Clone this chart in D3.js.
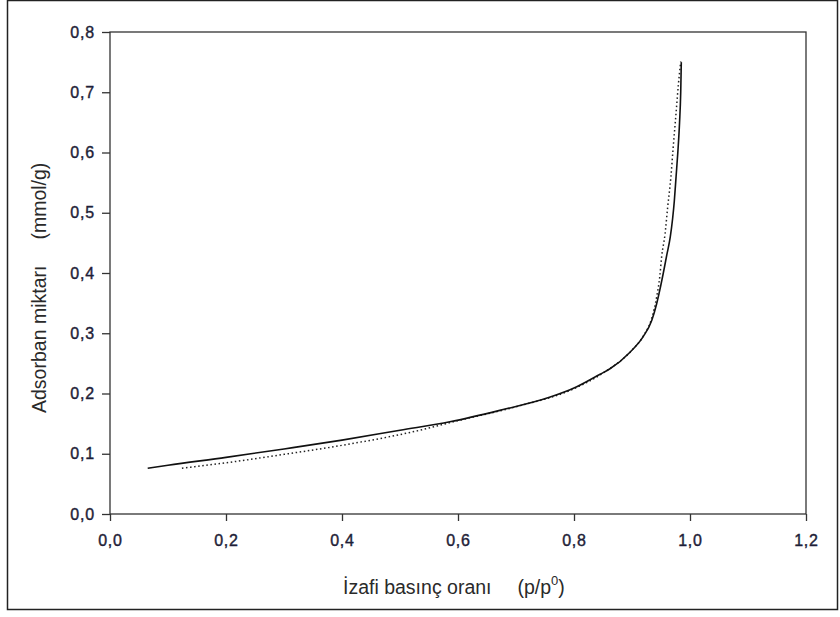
<!DOCTYPE html>
<html>
  <head>
    <meta charset="UTF-8">
    <title>Adsorpsiyon izotermi</title>
    <script src="https://cdn.jsdelivr.net/npm/d3@7"></script>
    <style>
      body { margin: 0; background: #fff; }
      .tick text { font-family: "Liberation Sans", Arial, sans-serif;
                   font-size: 16px; fill: #1e1e38; letter-spacing: 0.8px;
                   stroke: #1e1e38; stroke-width: 0.4px; }
      .title { font-family: "Liberation Sans", Arial, sans-serif;
               font-size: 19.5px; fill: #2a2a2a; }
    </style>
  </head>
  <body>
    <script>
      // x ticks, y ticks
      var xTicks = [0, 0.2, 0.4, 0.6, 0.8, 1.0, 1.2];
      var yTicks = [0, 0.1, 0.2, 0.3, 0.4, 0.5, 0.6, 0.7, 0.8];

      // solid curve (p/p0, mmol/g)
      var solidX = [0.065, 0.1, 0.2, 0.3, 0.4, 0.5, 0.586, 0.672, 0.759, 0.8, 0.845, 0.862, 0.897, 0.919, 0.934, 0.9425, 0.948, 0.954, 0.960, 0.966, 0.970, 0.973, 0.976, 0.979, 0.982, 0.984, 0.985];
      var solidY = [0.076, 0.081, 0.094, 0.108, 0.1226, 0.139, 0.153, 0.172, 0.194, 0.209, 0.232, 0.241, 0.269, 0.294, 0.321, 0.349, 0.372, 0.400, 0.430, 0.460, 0.490, 0.520, 0.560, 0.600, 0.650, 0.700, 0.750];

      // dotted curve
      var dotX = [0.124, 0.2, 0.3, 0.4, 0.534, 0.6, 0.7, 0.8, 0.85, 0.9, 0.92, 0.934, 0.9425, 0.948, 0.951, 0.957, 0.9615, 0.967, 0.971, 0.976, 0.98, 0.984];
      var dotY = [0.076, 0.085, 0.099, 0.114, 0.139, 0.155, 0.178, 0.208, 0.234, 0.272, 0.296, 0.325, 0.36, 0.395, 0.426, 0.465, 0.509, 0.559, 0.608, 0.666, 0.713, 0.751];

      var svg = d3.select("body").append("svg")
        .attr("width", 840)
        .attr("height", 617);

      // outer frame
      svg.append("rect")
        .attr("x", 7.5).attr("y", 0.5)
        .attr("width", 830).attr("height", 609)
        .style("fill", "none")
        .style("stroke", "#222")
        .style("stroke-width", 1.5);

      var plotL = 110, plotT = 32, plotR = 806, plotB = 514;

      var x = d3.scaleLinear().domain([0, 1.2]).range([plotL, plotR]);
      var y = d3.scaleLinear().domain([0, 0.8]).range([plotB, plotT]);

      var fmt = function (d) { return d3.format(".1f")(d).replace(".", ","); };

      // plot box
      svg.append("rect")
        .attr("x", plotL).attr("y", plotT)
        .attr("width", plotR - plotL).attr("height", plotB - plotT)
        .style("fill", "none")
        .style("stroke", "#333")
        .style("stroke-width", 1.3);

      var xAxis = svg.append("g")
        .attr("transform", "translate(0," + plotB + ")")
        .call(d3.axisBottom(x).tickValues(xTicks).tickFormat(fmt).tickSize(7).tickPadding(14));
      var yAxis = svg.append("g")
        .attr("transform", "translate(" + plotL + ",0)")
        .call(d3.axisLeft(y).tickValues(yTicks).tickFormat(fmt).tickSize(8).tickPadding(7));

      [xAxis, yAxis].forEach(function (a) {
        a.select(".domain").remove();
        a.selectAll(".tick line").style("stroke", "#333").style("stroke-width", 1.3);
      });

      var line = d3.line()
        .x(function (d) { return x(d[0]); })
        .y(function (d) { return y(d[1]); })
        .curve(d3.curveMonotoneX);

      var solid = solidX.map(function (v, i) { return [v, solidY[i]]; });
      var dotted = dotX.map(function (v, i) { return [v, dotY[i]]; });

      svg.append("path")
        .datum(dotted)
        .attr("d", line)
        .style("fill", "none")
        .style("stroke", "#222")
        .style("stroke-width", 1.5)
        .style("stroke-dasharray", "1.5,2.6");

      svg.append("path")
        .datum(solid)
        .attr("d", line)
        .style("fill", "none")
        .style("stroke", "#111")
        .style("stroke-width", 1.6);

      // axis titles
      var xt = svg.append("text")
        .attr("class", "title")
        .attr("x", 343).attr("y", 594);
      xt.append("tspan").text("İzafi basınç oranı");
      xt.append("tspan").attr("dx", 26).text("(p/p");
      xt.append("tspan").attr("dy", -9).style("font-size", "13px").text("0");
      xt.append("tspan").attr("dy", 9).text(")");

      var yt = svg.append("text")
        .attr("class", "title")
        .attr("transform", "translate(46,413) rotate(-90)");
      yt.append("tspan").text("Adsorban miktarı");
      yt.append("tspan").attr("dx", 26).text("(mmol/g)");
    </script>
  </body>
</html>
